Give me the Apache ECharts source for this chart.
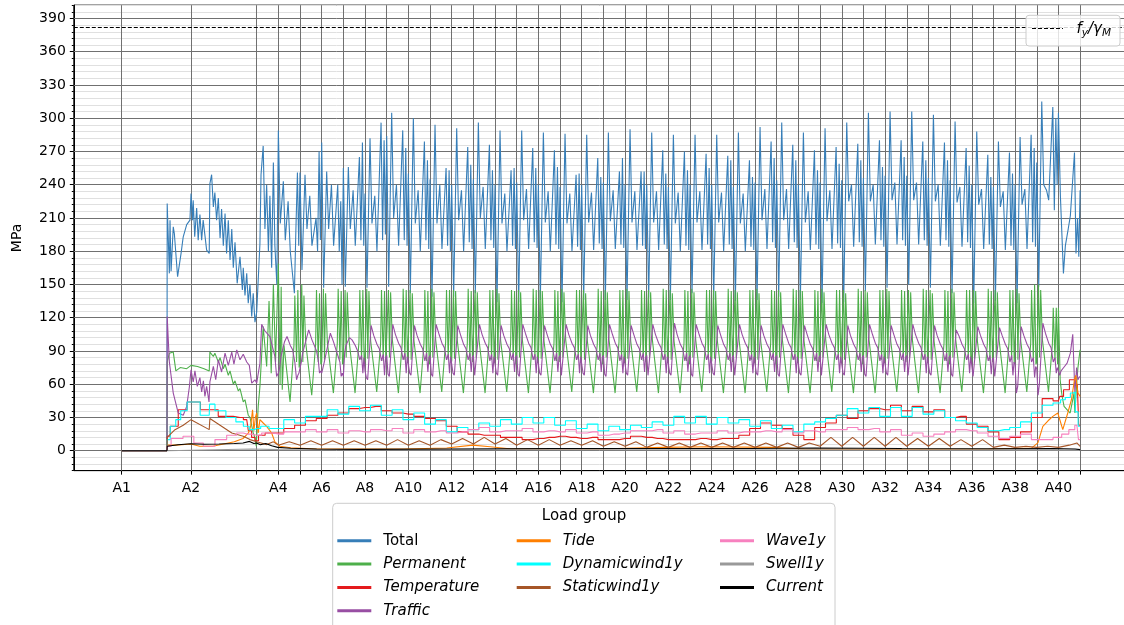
<!DOCTYPE html>
<html>
<head>
<meta charset="utf-8">
<script src="https://cdn.jsdelivr.net/npm/echarts@6/dist/echarts.min.js"></script>
<style>
    html, body { margin: 0; padding: 0; background: #fff; }
    #J-stress { width: 1124px; height: 625px; }
</style>
</head>
<body>
<div id="J-stress"></div>
<script>
/*************** data **************/
// support chainage (m), A1 .. A41
const supports = [0, 320, 623, 723, 823, 923, 1023, 1123, 1223, 1323, 1423, 1523, 1623, 1723, 1823, 1923,
    2023, 2123, 2223, 2323, 2423, 2523, 2623, 2723, 2823, 2923, 3023, 3123, 3223, 3323, 3423, 3523,
    3623, 3723, 3823, 3923, 4023, 4123, 4223, 4323, 4423];
const tickLabels = ['A1', 'A2', 'A4', 'A6', 'A8', 'A10', 'A12', 'A14', 'A16', 'A18', 'A20',
    'A22', 'A24', 'A26', 'A28', 'A30', 'A32', 'A34', 'A36', 'A38', 'A40'];
const yTicks = [0, 30, 60, 90, 120, 150, 180, 210, 240, 270, 300, 330, 360, 390];
const fyGammaM = 381.7;

// unloaded part before the first loaded node
const zeroStart = [[0, 0], [209, 0]];

// A1..A4, read point by point
const totalEarly = [[210,223],[220,160],[223,208],[228,162],[238,202],[243,196],[258,157],[274,178],[284,193],[300,204],
    [315,208],[320,232],[327,208],[330,226],[337,193],[346,219],[353,190],[361,213],[369,190],[376,208],[392,181],[404,178],
    [407,241],[415,249],[423,220],[430,233],[438,208],[446,228],[454,192],[461,218],[469,185],[477,214],[484,178],[492,208],
    [500,172],[508,200],[515,165],[523,188],[533,151],[546,175],[557,145],[561,165],[569,140],[577,160],[584,133],[592,150],
    [600,121],[607,142],[615,116],[623,125],[638,187],[643,249],[649,249],[653,275],[661,200],[669,240],[677,180],[684,230],
    [692,165],[700,260],[707,185],[716,150]];
const permEarly = [[210,80],[220,88],[238,89],[250,72],[270,75],[300,74],[320,77],[350,76],[380,74],[404,72],
    [407,89],[423,85],[430,88],[446,80],[454,84],[469,74],[477,78],[492,68],[500,72],[515,60],[523,63],[538,54],[546,56],
    [561,44],[569,46],[584,32],[592,30],[607,16],[615,12],[621,4],[630,40],[638,58],[653,112],[669,76],[680,135],[690,70],
    [700,150],[710,80]];
const trafEarly = [[210,121],[220,80],[238,52],[261,34],[284,32],[300,40],[312,57],[320,73],[330,62],[338,72],[349,58],
    [361,66],[369,53],[377,63],[384,49],[392,58],[403,44],[407,62],[423,76],[434,64],[446,82],[461,71],[477,88],[492,77],
    [508,89],[518,78],[531,91],[546,82],[561,87],[577,80],[589,77],[600,61],[615,64],[623,61],[638,79],[646,114],[661,108],
    [684,103],[707,85],[715,67]];
const cyanEarly = [[210,10],[238,22],[261,28],[284,36],[320,44],[404,32],[407,42],[454,36],[508,30],[546,26],[577,22],
    [600,19],[623,20],[660,22],[700,20]];
const redEarly = [[210,13],[238,22],[284,37],[320,44],[407,37],[484,31],[546,30],[577,28],[592,18],[607,12],[623,9],
    [640,14],[684,16]];
const pinkEarly = [[210,4],[246,11],[320,13],[346,7],[407,4],[454,10],[515,14],[546,16],[577,15],[623,14],[669,16]];
const brownEarly = [[210,12],[246,19],[284,23],[320,28],[404,19],[407,29],[454,23],[508,16],[561,13],[592,10],[623,8],
    [669,5.5],[700,8]];

// A4..A41, one row per span, values at fixed stations inside the span (m from the support)
const totOffs = [0, 9, 23, 32, 45, 55, 74, 81, 88, 94];
const totalRows = [
    [289,205,243,190,225,180,142,200,251,185], [251,163,249,200,230,185,210,180,270,190],
    [278,147,252,200,240,185,240,180,225,150], [255,148,256,200,235,185,265,190,278,185],
    [232,147,282,205,230,180,296,190,280,195], [284,148,305,210,240,185,289,190,273,185],
    [250,142,300,205,235,180,279,190,262,182], [245,139,294,205,240,182,255,185,253,180],
    [240,139,291,208,235,180,274,188,258,182], [245,142,296,210,238,182,276,190,253,183],
    [240,134,289,205,232,180,253,185,255,182], [242,134,289,208,236,182,273,188,255,183],
    [240,136,287,206,234,180,271,186,256,182], [238,134,286,205,232,180,249,184,250,181],
    [240,136,285,206,233,181,264,187,247,182], [242,136,287,207,235,182,252,186,264,183],
    [240,136,290,206,234,181,252,185,252,182], [240,138,287,206,234,181,271,186,250,182],
    [238,136,285,205,233,180,270,185,253,181], [240,142,285,206,234,181,268,186,255,182],
    [240,136,285,206,233,180,266,186,262,182], [238,135,287,205,232,180,262,184,247,181],
    [242,136,292,208,236,182,279,188,264,183], [244,139,296,208,236,182,276,188,262,183],
    [240,136,287,206,234,181,271,186,253,182], [242,133,291,207,235,182,274,187,259,183],
    [244,134,296,225,240,184,277,188,262,184], [246,144,305,225,240,186,280,190,256,184],
    [248,147,306,226,242,186,280,190,265,185], [248,150,306,226,242,186,279,190,262,185],
    [246,147,303,225,240,185,278,190,262,184], [244,142,297,224,238,184,273,188,257,183],
    [240,133,288,222,236,182,267,186,247,182], [238,135,279,220,234,181,269,185,250,181],
    [240,133,283,222,236,182,285,188,273,184], [260,148,315,240,235,226,310,217,300,240],
    [305,230,160,185,200,212,269,178,210,175]
];
const totalEnd = 235;

const permOffs = [0, 8, 13, 18, 26, 54, 72, 76, 84, 90, 96];
const permRows = [
    [169,60,148,55,95,44,95,140,80,145,75], [82,150,80,140,98,50,96,145,80,142,78],
    [80,146,82,142,98,52,97,146,82,144,78], [80,145,84,143,100,52,98,145,82,145,79],
    [81,146,83,144,99,53,97,145,81,144,80], [80,145,84,143,100,52,98,146,82,145,79],
    [79,145,82,142,99,52,97,145,81,144,78], [80,146,84,143,100,53,98,145,82,145,79],
    [81,145,83,144,99,52,97,146,81,144,80], [80,145,84,143,100,52,98,145,82,145,79],
    [79,146,82,142,99,53,97,145,81,144,78], [80,145,84,143,100,52,98,146,82,145,79],
    [81,145,83,144,99,52,97,145,81,144,80], [80,146,84,143,100,53,98,145,82,145,79],
    [79,145,82,142,99,52,97,146,81,144,78], [80,145,84,143,100,52,98,145,82,145,79],
    [81,146,83,144,99,53,97,145,81,144,80], [80,145,84,143,100,52,98,146,82,145,79],
    [79,145,82,142,99,52,97,145,81,144,78], [80,146,84,143,100,53,98,145,82,145,79],
    [81,145,83,144,99,52,97,146,81,144,80], [80,145,84,143,100,52,98,145,82,145,79],
    [79,146,82,142,99,53,97,145,81,144,78], [80,145,84,143,100,52,98,146,82,145,79],
    [81,145,83,144,99,52,97,145,81,144,80], [80,146,84,143,100,53,98,145,82,145,79],
    [79,145,82,142,99,52,97,146,81,144,78], [80,145,84,143,100,52,98,145,82,145,79],
    [81,146,83,144,99,53,97,145,81,144,80], [80,145,84,143,100,52,98,146,82,145,79],
    [79,145,82,142,99,52,97,145,81,144,78], [80,146,84,143,100,53,98,145,82,145,79],
    [81,145,83,144,99,52,97,146,81,144,80], [80,145,84,143,100,52,98,145,82,145,79],
    [79,146,82,142,99,53,97,145,81,150,78], [80,150,84,145,100,53,96,129,82,129,78],
    [129,64,55,48,40,34,52,34,60,75,85]
];
const permEnd = 91;

const trafOffs = [0, 6, 12, 28, 40, 55, 66, 76, 84, 90, 95];
const trafRows = [
    [70,75,85,98,103,95,91,80,64,68,70], [70,80,88,100,109,100,95,90,82,70,72],
    [70,75,80,95,106,98,91,85,80,67,70], [67,88,95,102,100,95,90,82,86,70,84],
    [72,66,64,113,104,96,92,81,87,68,84], [86,69,67,114,105,97,93,82,88,70,85],
    [85,70,68,113,104,96,92,81,88,71,84], [86,69,67,114,106,97,93,82,87,70,85],
    [85,70,68,113,105,96,92,82,88,71,84], [86,68,67,114,105,97,93,81,87,70,85],
    [85,70,68,113,104,96,92,82,88,71,84], [86,69,67,114,106,97,93,82,87,70,85],
    [85,70,68,113,105,96,92,81,88,71,84], [86,68,67,114,105,97,93,82,87,70,85],
    [85,70,68,113,104,96,92,82,88,71,84], [86,69,67,114,106,97,93,81,87,70,85],
    [85,70,68,113,105,96,92,82,88,71,84], [86,68,67,114,105,97,93,82,87,70,85],
    [85,70,68,115,105,96,92,81,88,71,84], [86,69,67,114,106,97,93,82,87,70,85],
    [85,70,68,113,105,96,92,82,88,71,84], [86,68,67,114,105,97,93,81,87,70,85],
    [85,70,68,113,104,96,92,82,88,71,84], [86,69,67,114,106,97,93,82,87,70,85],
    [85,70,68,113,105,96,92,81,88,71,84], [86,68,67,114,105,97,93,82,87,70,85],
    [85,70,68,113,104,96,92,82,88,71,84], [86,69,67,114,106,97,93,81,87,70,85],
    [85,70,68,113,105,96,92,82,88,71,84], [86,68,67,114,105,97,93,82,87,70,85],
    [85,70,68,113,104,96,92,81,88,71,84], [86,69,67,109,104,96,92,82,87,70,85],
    [85,67,66,112,104,96,92,81,86,69,82], [84,67,66,111,104,96,92,80,86,68,80],
    [78,52,58,112,104,96,92,80,84,66,76], [74,50,60,115,106,97,93,80,84,70,75],
    [72,68,72,76,79,88,105,52,75,64,66]
];
const trafEnd = 67;

// A4..A40: [at support, at mid span]
const midOffs = [0, 50];
const cyanRows = [[20,28],[25,31],[31,37],[33,40],[36,41],[32,37],[28,34],[24,28],[17,21],[19,25],[22,28],[24,30],
    [25,30],[23,27],[20,24],[18,22],[19,23],[21,26],[23,31],[25,31],[24,30],[25,28],[22,27],[20,23],[17,24],[26,29],
    [32,38],[34,39],[31,39],[31,39],[33,36],[30,27],[25,21],[18,19],[21,26],[34,41]];
const redRows = [[16,20],[23,27],[29,32],[34,38],[39,40],[36,34],[33,31],[29,27],[22,17],[15,14],[14,12],[12,10],
    [11,12],[13,12],[11,12],[10,10],[11,13],[12,11],[10,10],[10,11],[10,11],[11,14],[20,25],[23,20],[14,10],[21,25],
    [32,29],[36,38],[37,41],[36,40],[35,37],[30,31],[24,22],[17,10],[12,17],[30,47]];
const pinkRows = [[15,17],[17,19],[17,19],[16,18],[17,19],[18,20],[16,19],[17,18],[16,17],[19,21],[17,18],[18,20],
    [17,18],[17,19],[16,17],[14,15],[16,18],[18,19],[16,18],[15,16],[16,18],[16,17],[17,18],[17,19],[16,18],[17,19],
    [19,21],[19,20],[17,19],[14,16],[13,15],[17,19],[18,16],[13,11],[13,15],[10,10]];
const brownRows = [[5,8],[5,9],[5,9],[5,9],[5,9],[5,10],[5,9],[5,10],[6,11],[6,12],[6,11],[5,10],[5,10],[5,9],[5,9],
    [4,8],[4,8],[3,7],[3,7],[3,7],[3,7],[3,7],[3,7],[3,7],[3,7],[4,12],[4,12],[4,12],[4,12],[4,11],[4,11],[4,10],
    [4,10],[3,5],[3,4],[3,4]];

// last span A40..A41
const cyanTail = [[4323,43],[4343,46],[4366,48],[4390,52],[4397,53],[4405,35],[4423,22]];
const redTail = [[4323,45],[4335,49],[4358,55],[4389,64],[4410,60],[4423,23]];
const pinkTail = [[4323,12],[4353,15],[4389,19],[4408,23],[4423,10]];
const brownTail = [[4323,3],[4373,5],[4408,7],[4423,4]];

const tideData = [[0,0],[209,0],[210,5],[250,5],[320,6],[360,4],[420,4],[470,6],[520,8],[560,11],[585,16],[595,22],
    [604,37],[610,18],[617,30],[623,34],[630,16],[638,28],[653,25],[669,22],[692,16],[707,8],[730,4],[780,2.7],[900,1.5],
    [1300,1.5],[1500,2.5],[1620,5],[1700,3.5],[1800,1.5],[2200,1.5],[2500,3],[2700,3.5],[3000,3],[3150,1.5],[3500,1.2],
    [4000,1.5],[4200,2.5],[4228,7],[4251,22],[4275,27],[4297,31],[4320,34],[4343,19],[4366,34],[4383,46],[4397,64],
    [4403,68],[4413,52],[4423,49]];
const currentData = [[0,0],[209,0],[210,4],[260,5.4],[320,6.3],[380,5.8],[450,6],[520,6.5],[560,7],[590,8.4],[610,6.5],
    [623,7],[640,5.4],[665,6.5],[692,4.5],[720,3],[780,2.2],[900,1.5],[1100,1.2],[1500,1.5],[2000,2],[2500,2],[2900,2],
    [3200,2.5],[3600,2],[4000,1.8],[4300,2],[4400,1.5],[4423,1]];
const swellData = [[0,0],[209,0],[210,1],[600,1.5],[723,1],[2000,0.8],[4423,0.5]];

/*************** build **************/
// rows of a span table -> [chainage, value] pairs, first span starts at A4
function spanPoints(offs, rows) {
    const out = [];
    rows.forEach((row, j) => {
        const base = supports[3 + j];
        row.forEach((v, k) => out.push([base + offs[k], v]));
    });
    return out;
}

const totalData = zeroStart.concat(totalEarly, spanPoints(totOffs, totalRows), [[supports[40], totalEnd]]);
const permData = zeroStart.concat(permEarly, spanPoints(permOffs, permRows), [[supports[40], permEnd]]);
const trafData = zeroStart.concat(trafEarly, spanPoints(trafOffs, trafRows), [[supports[40], trafEnd]]);
const cyanData = zeroStart.concat(cyanEarly, spanPoints(midOffs, cyanRows), cyanTail);
const redData = zeroStart.concat(redEarly, spanPoints(midOffs, redRows), redTail);
const pinkData = zeroStart.concat(pinkEarly, spanPoints(midOffs, pinkRows), pinkTail);
const brownData = zeroStart.concat(brownEarly, spanPoints(midOffs, brownRows), brownTail);

const FONT = 'DejaVu Sans';

function line(name, color, data, step) {
    return {
        name: name,
        type: 'line',
        data: data,
        step: step || false,
        symbol: 'none',
        showSymbol: false,
        silent: true,
        z: 3,
        itemStyle: { color: color },
        lineStyle: { color: color, width: 1.1 }
    };
}

const legendBase = {
    orient: 'vertical',
    top: 533.3,
    padding: 0,
    itemWidth: 34,
    itemHeight: 3,
    itemGap: 8.3,
    icon: 'rect',
    selectedMode: false,
    z: 10,
    formatter: name => name === 'Total' ? '{n|' + name + '}' : '{i|' + name + '}',
    textStyle: {
        rich: {
            n: { fontFamily: FONT, fontSize: 15, color: '#000', lineHeight: 18, padding: [0, 0, 0, 7] },
            i: { fontFamily: FONT, fontSize: 15, fontStyle: 'italic', color: '#000', lineHeight: 18, padding: [0, 0, 0, 7] }
        }
    }
};

const gridLineStyle = { color: '#707070', width: 1, type: 'solid' };

const option = {
    animation: false,
    grid: {
        left: 73.8, top: 5.15, width: 1054.2, height: 465.5,
        outerBoundsMode: 'none',
        containLabel: false,
        show: true, borderColor: '#000', borderWidth: 1
    },
    xAxis: {
        type: 'value',
        min: -221,
        max: 4644,
        axisLine: { show: true, onZero: false, lineStyle: { color: '#000' } },
        axisTick: { show: true, customValues: supports, length: 4, lineStyle: { color: '#000' } },
        axisLabel: {
            customValues: tickLabels.map(t => supports[parseInt(t.slice(1), 10) - 1]),
            formatter: v => {
                const i = supports.findIndex(s => Math.abs(s - v) < 0.5);
                return i >= 0 ? 'A' + (i + 1) : '';
            },
            color: '#000', fontFamily: FONT, fontSize: 14, margin: 11
        },
        splitLine: { show: false }
    },
    yAxis: [
        {
            type: 'value',
            position: 'left',
            min: -18,
            max: 402,
            interval: 6,
            name: 'MPa',
            nameLocation: 'middle',
            nameRotate: 90,
            nameGap: 49,
            nameTextStyle: { color: '#000', fontFamily: FONT, fontSize: 14 },
            axisLine: { show: true, onZero: false, lineStyle: { color: '#000' } },
            axisTick: { show: true, length: 2, lineStyle: { color: '#000' } },
            axisLabel: { show: false },
            splitLine: { show: true, lineStyle: { color: '#e0e0e0', width: 1 } }
        },
        {
            type: 'value',
            position: 'left',
            offset: 0,
            min: -18,
            max: 402,
            axisLine: { show: false, onZero: false },
            axisTick: { show: true, customValues: yTicks, length: 4, lineStyle: { color: '#000' } },
            axisLabel: { customValues: yTicks, color: '#000', fontFamily: FONT, fontSize: 14, margin: 8 },
            splitLine: { show: false }
        }
    ],
    legend: [
        Object.assign({}, legendBase, { left: 337.3, data: ['Total', 'Permanent', 'Temperature', 'Traffic'] }),
        Object.assign({}, legendBase, { left: 516.7, data: ['Tide', 'Dynamicwind1y', 'Staticwind1y'] }),
        Object.assign({}, legendBase, { left: 720, data: ['Wave1y', 'Swell1y', 'Current'] })
    ],
    graphic: [
        {
            type: 'rect', z: 5,
            shape: { x: 332.7, y: 503.3, width: 502.3, height: 140, r: 4 },
            style: { fill: 'rgba(255,255,255,0.8)', stroke: '#cccccc', lineWidth: 1 }
        },
        {
            type: 'text', z: 11, x: 584, y: 516,
            style: {
                text: 'Load group', fill: '#000', font: '15px "DejaVu Sans"',
                align: 'center', verticalAlign: 'middle', textAlign: 'center', textVerticalAlign: 'middle'
            }
        },
        {
            type: 'rect', z: 5,
            shape: { x: 1026, y: 15.3, width: 94, height: 30.7, r: 3 },
            style: { fill: 'rgba(255,255,255,0.8)', stroke: '#cccccc', lineWidth: 1 }
        },
        {
            type: 'line', z: 11,
            shape: { x1: 1032, y1: 28.5, x2: 1063, y2: 28.5 },
            style: { stroke: '#000', lineWidth: 1, lineDash: [4, 2] }
        },
        {
            type: 'text', z: 11, x: 1076.5, y: 29,
            style: {
                text: '{a|f}{b|y}{a|/γ}{b|M}',
                align: 'left', verticalAlign: 'middle', textAlign: 'left', textVerticalAlign: 'middle',
                rich: {
                    a: { fontFamily: FONT, fontSize: 15, fontStyle: 'italic', fill: '#000', color: '#000', lineHeight: 20, verticalAlign: 'middle' },
                    b: { fontFamily: FONT, fontSize: 10.5, fontStyle: 'italic', fill: '#000', color: '#000', lineHeight: 11, verticalAlign: 'bottom' }
                }
            }
        }
    ],
    series: [
        {
            // grid lines at supports and every 30 MPa, plus fy/gammaM
            name: 'gridlines',
            type: 'line',
            data: [],
            silent: true,
            z: 1,
            markLine: {
                silent: true,
                z: 1,
                animation: false,
                symbol: ['none', 'none'],
                label: { show: false },
                data: supports.map(s => ({ xAxis: s, lineStyle: gridLineStyle }))
                    .concat(yTicks.map(v => ({ yAxis: v, lineStyle: gridLineStyle })))
                    .concat([{ yAxis: fyGammaM, lineStyle: { color: '#000', width: 1, type: [4, 2] } }])
            }
        },
        line('Total', '#377eb8', totalData),
        line('Permanent', '#4daf4a', permData),
        line('Temperature', '#e41a1c', redData, 'middle'),
        line('Traffic', '#984ea3', trafData),
        line('Tide', '#ff7f00', tideData),
        line('Dynamicwind1y', '#00ffff', cyanData, 'middle'),
        line('Staticwind1y', '#a65628', brownData),
        line('Wave1y', '#f781bf', pinkData, 'middle'),
        line('Swell1y', '#999999', swellData),
        line('Current', '#000000', currentData)
    ]
};

const chart = echarts.init(document.getElementById('J-stress'));
chart.setOption(option);
</script>
</body>
</html>
